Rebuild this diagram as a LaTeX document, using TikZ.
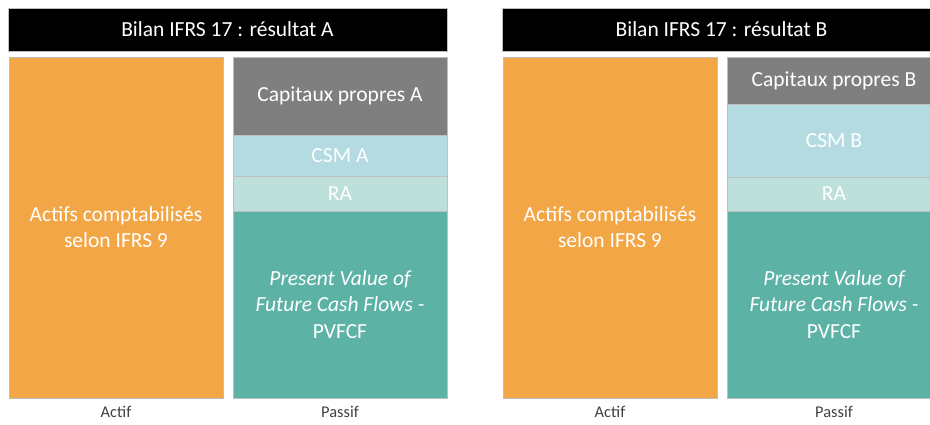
\documentclass[tikz,border=0pt]{standalone}
\usepackage{fontspec}
\setmainfont{Carlito}
\usepackage{xcolor}
\definecolor{actifcol}{HTML}{F3A645}
\definecolor{capcol}{HTML}{7F7F7F}
\definecolor{csmcol}{HTML}{B4DBE1}
\definecolor{racol}{HTML}{BDE0DA}
\definecolor{pvcol}{HTML}{5DB2A6}
\definecolor{labcol}{HTML}{404040}
\tikzset{blk/.style = {shape=rectangle,draw=black!25,line width=0.5pt,text=white,
                       align=center,inner sep=0pt,minimum width=214,
                       font=\fontsize{21.5}{26.2}\selectfont}}
\tikzset{titlebar/.style = {blk,fill=black,minimum width=439,minimum height=43}}
\tikzset{collab/.style = {text=labcol,font=\fontsize{16.4}{20}\selectfont}}

\begin{document}
\begin{tikzpicture}[x=1pt,y=-1pt]
                    \useasboundingbox (0,0) rectangle (930,425);
                    \clip (0,0) rectangle (930,425);
                    % bilan A
                    \node[titlebar] (titleA) at (227.5,29.5) {Bilan IFRS 17 : résultat A};
                    \node[blk,fill=actifcol,minimum height=341] (actifA) at (116,227.5) {Actifs comptabilisés\\selon IFRS 9};
                    \node[blk,fill=capcol,minimum height=78] (capA) at (340,96) {Capitaux propres A};
                    \node[blk,fill=csmcol,minimum height=41] (csmA) at (340,155.5) {CSM A};
                    \node[blk,fill=racol,minimum height=35] (raA) at (340,193.5) {RA};
                    \node[blk,fill=pvcol,minimum height=187] (pvA) at (340,304.5) {\itshape Present Value of\\\itshape Future Cash Flows -\\PVFCF};
                    \node[collab] (actA) at (116,412) {Actif};
                    \node[collab] (pasA) at (340,412) {Passif};

                    % bilan B
                    \node[titlebar] (titleB) at (721.5,29.5) {Bilan IFRS 17 : résultat B};
                    \node[blk,fill=actifcol,minimum height=341] (actifB) at (610,227.5) {Actifs comptabilisés\\selon IFRS 9};
                    \node[blk,fill=capcol,minimum height=47] (capB) at (834,80.5) {Capitaux propres B};
                    \node[blk,fill=csmcol,minimum height=73] (csmB) at (834,140.5) {CSM B};
                    \node[blk,fill=racol,minimum height=34] (raB) at (834,194) {RA};
                    \node[blk,fill=pvcol,minimum height=187] (pvB) at (834,304.5) {\itshape Present Value of\\\itshape Future Cash Flows -\\PVFCF};
                    \node[collab] (actB) at (610,412) {Actif};
                    \node[collab] (pasB) at (834,412) {Passif};
                \end{tikzpicture}
\end{document}
